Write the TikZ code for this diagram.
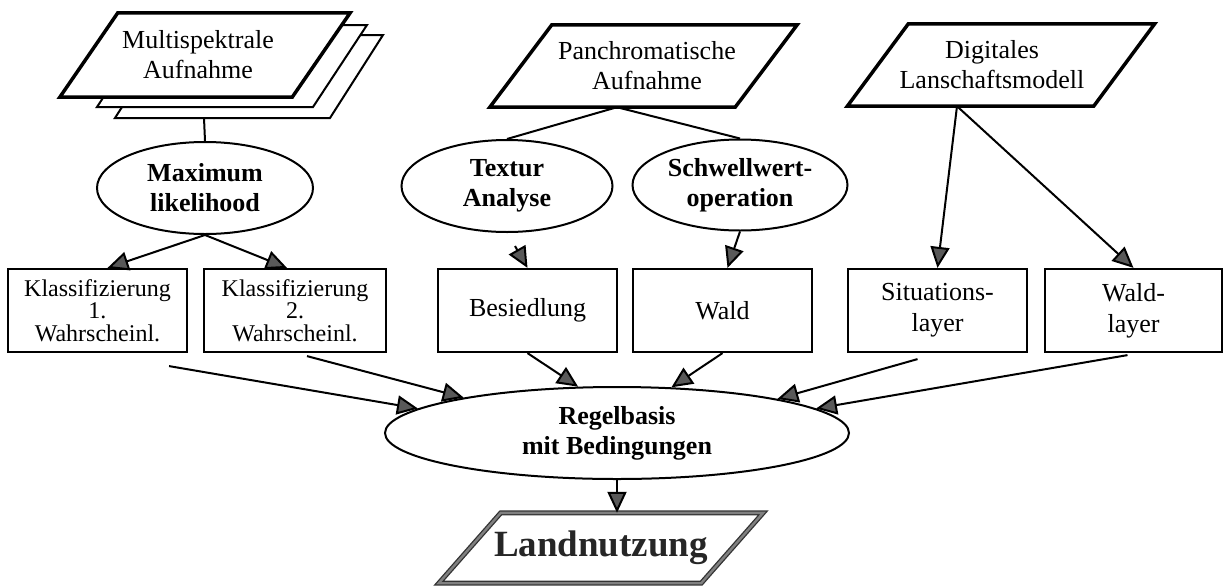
\documentclass[tikz,border=0pt]{standalone}
\usepackage{fontspec}
\setmainfont{Liberation Serif}
\usetikzlibrary{arrows.meta,shapes.geometric}
\pgfdeclarelayer{background}
\pgfsetlayers{background,main}
\begin{document}
\begin{tikzpicture}[x=1pt,y=-1pt,
  box/.style={draw,line width=2.2pt,rectangle,minimum height=83pt,inner sep=0pt,align=center,font=\fontsize{26}{31}\selectfont},
  klbox/.style={box,font=\fontsize{24}{22.5}\selectfont},
  ell/.style={draw,line width=2pt,ellipse,inner sep=0pt,align=center,font=\fontsize{26}{30}\selectfont\bfseries,minimum height=92pt,fill=white},
  ptxt/.style={inner sep=0pt,align=center,font=\fontsize{26}{30}\selectfont},
  conn/.style={line width=2pt},
  arr/.style={line width=2pt,-{Triangle[length=21pt,width=19pt,fill=black!65]}},
  para/.style={line width=3.5pt,fill=white},
  sheet/.style={line width=2pt,fill=white},
]
\useasboundingbox (0,0) rectangle (1224,587);

% --- input parallelograms ---
\node[ptxt,minimum width=232pt,minimum height=84pt] (ms) at (198,55) {Multispektrale\\Aufnahme};
\coordinate (msb) at (204,118);
\node[ptxt,minimum width=245pt,minimum height=82pt] (pan) at (647,66) {Panchromatische\\Aufnahme};
\node[ptxt,minimum width=246pt,minimum height=82pt] (dlm) at (992,65) {Digitales\\Lanschaftsmodell};

\begin{pgfonlayer}{background}
  \draw[sheet] (168,35) -- (383,35) -- (330,118) -- (115,118) -- cycle;
  \draw[sheet] (151,25) -- (367,25) -- (313,107) -- (97,107) -- cycle;
  \draw[para] ([xshift=36pt]ms.north west) -- ([xshift=36pt]ms.north east) -- ([xshift=-22pt]ms.south east) -- ([xshift=-22pt]ms.south west) -- cycle;
  \draw[para] ([xshift=27.5pt]pan.north west) -- ([xshift=27.5pt]pan.north east) -- ([xshift=-34.5pt]pan.south east) -- ([xshift=-34.5pt]pan.south west) -- cycle;
  \draw[para] ([xshift=39.5pt]dlm.north west) -- ([xshift=39.5pt]dlm.north east) -- ([xshift=-21.5pt]dlm.south east) -- ([xshift=-21.5pt]dlm.south west) -- cycle;
\end{pgfonlayer}

% --- ellipses ---
\node[ell,minimum width=216pt] (ml) at (205,188) {Maximum\\likelihood};
\node[ell,minimum width=211pt] (tex) at (507,186) {Textur\\Analyse};
\node[ell,minimum width=215pt,minimum height=91pt] (sch) at (740,185) {Schwellwert-\\operation};
\node[ell,minimum width=464pt] (reg) at (617,433) {Regelbasis\\mit Bedingungen};

% --- boxes ---
\node[klbox,minimum width=179pt] (b1) at (97.5,310.5) {Klassifizierung\\1.\\Wahrscheinl.};
\node[klbox,minimum width=182pt] (b2) at (295,310.5) {Klassifizierung\\2.\\Wahrscheinl.};
\node[box,minimum width=179pt] (bes) at (527.5,310.5) {Besiedlung};
\node[box,minimum width=179pt] (wald) at (722.5,310.5) {Wald};
\node[box,minimum width=179pt] (sit) at (937.5,310.5) {Situations-\\layer};
\node[box,minimum width=177pt] (wl) at (1133.5,310.5) {Wald-\\layer};

% --- output ---
\node[inner sep=0pt,minimum width=262pt,minimum height=70pt,font=\fontsize{37}{40}\selectfont\bfseries,text=black!85] (land) at (601,548) {Landnutzung};
\begin{pgfonlayer}{background}
  \draw[line width=5pt,draw=black!80,fill=white] ([xshift=31pt]land.north west) -- ([xshift=31pt]land.north east) -- ([xshift=-31pt]land.south east) -- ([xshift=-31pt]land.south west) -- cycle;
  \draw[line width=2.4pt,draw=black!50] ([xshift=31pt]land.north west) -- ([xshift=31pt]land.north east) -- ([xshift=-31pt]land.south east) -- ([xshift=-31pt]land.south west) -- cycle;
\end{pgfonlayer}

% --- connectors ---
\draw[conn] (msb) -- (ml.north);
\draw[conn] ([xshift=-30pt]pan.south) -- (tex.north);
\draw[conn] ([xshift=-30pt]pan.south) -- (sch.north);
\draw[arr] (ml.south) -- ([xshift=10pt]b1.north);
\draw[arr] (ml.south) -- ([xshift=-8pt]b2.north);
\draw[arr] ([xshift=8pt,yshift=-13pt]tex.south) -- (bes.north);
\draw[arr] (sch.south) -- ([xshift=5pt]wald.north);
\draw[arr] ([xshift=-35pt]dlm.south) -- (sit.north);
\draw[arr] ([xshift=-35pt]dlm.south) -- (wl.north);

\draw[arr] ([xshift=-19pt,yshift=-13pt]b1.south east) -- (reg.173);
\draw[arr] ([xshift=12pt,yshift=-3pt]b2.south) -- (reg.167);
\draw[arr] (bes.south) -- (reg.130);
\draw[arr] (wald.south) -- (reg.40);
\draw[arr] ([xshift=-20pt,yshift=-6pt]sit.south) -- (reg.12.7);
\draw[arr] ([xshift=-6pt,yshift=-2pt]wl.south) -- (reg.7);
\draw[arr] (reg.south) -- (reg.south |- land.north);
\end{tikzpicture}
\end{document}
